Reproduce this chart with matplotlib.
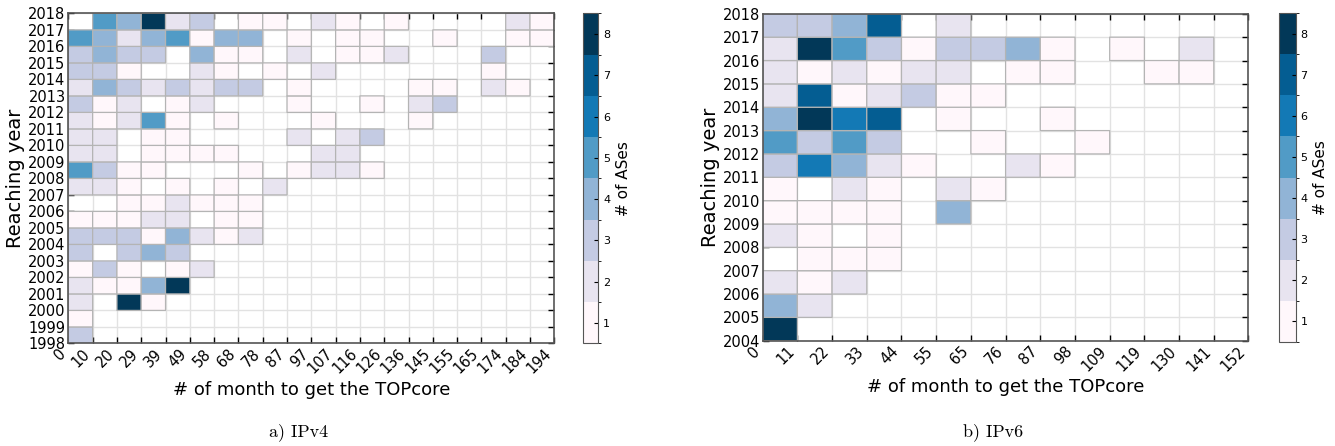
import matplotlib.pyplot as plt
from matplotlib.colors import BoundaryNorm
import numpy as np

# IPv4: rows from 2017 (top) down to 1998, 20 month bins
v4_xlabels = ['0', '10', '20', '29', '39', '49', '58', '68', '78', '87', '97',
              '107', '116', '126', '136', '145', '155', '165', '174', '184', '194']
v4_years = list(range(1998, 2019))
v4_counts = [
    [0, 5, 4, 8, 2, 3, 0, 1, 1, 0, 2, 1, 0, 1, 0, 0, 0, 0, 2, 1],  # 2017
    [5, 4, 2, 4, 5, 1, 4, 4, 0, 1, 0, 1, 1, 0, 0, 1, 0, 0, 1, 1],  # 2016
    [3, 4, 3, 3, 0, 4, 1, 1, 0, 2, 0, 1, 1, 2, 0, 0, 0, 3, 0, 0],  # 2015
    [3, 3, 1, 0, 0, 2, 1, 0, 1, 0, 2, 0, 0, 0, 0, 0, 0, 1, 0, 0],  # 2014
    [2, 4, 3, 2, 3, 2, 3, 3, 0, 1, 0, 0, 0, 0, 1, 1, 0, 2, 1, 0],  # 2013
    [3, 1, 2, 0, 1, 2, 0, 0, 0, 1, 0, 0, 1, 0, 2, 3, 0, 0, 0, 0],  # 2012
    [2, 1, 2, 5, 1, 0, 1, 0, 0, 0, 1, 0, 0, 0, 1, 0, 0, 0, 0, 0],  # 2011
    [2, 2, 0, 1, 1, 0, 0, 0, 0, 2, 0, 2, 3, 0, 0, 0, 0, 0, 0, 0],  # 2010
    [2, 2, 0, 1, 1, 1, 1, 0, 0, 0, 2, 2, 0, 0, 0, 0, 0, 0, 0, 0],  # 2009
    [5, 3, 1, 1, 0, 0, 0, 1, 0, 1, 2, 2, 1, 0, 0, 0, 0, 0, 0, 0],  # 2008
    [2, 2, 1, 0, 1, 0, 1, 0, 2, 0, 0, 0, 0, 0, 0, 0, 0, 0, 0, 0],  # 2007
    [0, 0, 1, 1, 2, 1, 1, 1, 0, 0, 0, 0, 0, 0, 0, 0, 0, 0, 0, 0],  # 2006
    [1, 1, 1, 2, 2, 0, 1, 1, 0, 0, 0, 0, 0, 0, 0, 0, 0, 0, 0, 0],  # 2005
    [3, 3, 3, 1, 4, 2, 1, 2, 0, 0, 0, 0, 0, 0, 0, 0, 0, 0, 0, 0],  # 2004
    [3, 0, 3, 4, 3, 0, 0, 0, 0, 0, 0, 0, 0, 0, 0, 0, 0, 0, 0, 0],  # 2003
    [1, 3, 1, 0, 1, 2, 0, 0, 0, 0, 0, 0, 0, 0, 0, 0, 0, 0, 0, 0],  # 2002
    [2, 1, 1, 4, 8, 0, 0, 0, 0, 0, 0, 0, 0, 0, 0, 0, 0, 0, 0, 0],  # 2001
    [2, 0, 8, 1, 0, 0, 0, 0, 0, 0, 0, 0, 0, 0, 0, 0, 0, 0, 0, 0],  # 2000
    [1, 0, 0, 0, 0, 0, 0, 0, 0, 0, 0, 0, 0, 0, 0, 0, 0, 0, 0, 0],  # 1999
    [3, 0, 0, 0, 0, 0, 0, 0, 0, 0, 0, 0, 0, 0, 0, 0, 0, 0, 0, 0],  # 1998
]

# IPv6: rows from 2017 (top) down to 2004, 14 month bins
v6_xlabels = ['0', '11', '22', '33', '44', '55', '65', '76', '87', '98',
              '109', '119', '130', '141', '152']
v6_years = list(range(2004, 2019))
v6_counts = [
    [3, 3, 4, 7, 0, 2, 0, 0, 0, 0, 0, 0, 0, 0],  # 2017
    [2, 8, 5, 3, 1, 3, 3, 4, 1, 0, 1, 0, 2, 0],  # 2016
    [2, 1, 2, 1, 2, 2, 0, 1, 1, 0, 0, 1, 1, 0],  # 2015
    [2, 7, 1, 2, 3, 1, 1, 0, 0, 0, 0, 0, 0, 0],  # 2014
    [4, 8, 6, 7, 0, 1, 0, 0, 1, 0, 0, 0, 0, 0],  # 2013
    [5, 3, 5, 3, 0, 0, 1, 0, 0, 1, 0, 0, 0, 0],  # 2012
    [3, 6, 4, 2, 1, 0, 0, 2, 1, 0, 0, 0, 0, 0],  # 2011
    [1, 0, 2, 1, 0, 2, 1, 0, 0, 0, 0, 0, 0, 0],  # 2010
    [1, 1, 1, 1, 0, 4, 0, 0, 0, 0, 0, 0, 0, 0],  # 2009
    [2, 1, 0, 1, 0, 0, 0, 0, 0, 0, 0, 0, 0, 0],  # 2008
    [0, 1, 1, 1, 0, 0, 0, 0, 0, 0, 0, 0, 0, 0],  # 2007
    [2, 1, 2, 0, 0, 0, 0, 0, 0, 0, 0, 0, 0, 0],  # 2006
    [4, 2, 0, 0, 0, 0, 0, 0, 0, 0, 0, 0, 0, 0],  # 2005
    [8, 0, 0, 0, 0, 0, 0, 0, 0, 0, 0, 0, 0, 0],  # 2004
]

cbar_ticks = [1, 2, 3, 4, 5, 6, 7, 8]

cmap = plt.get_cmap('PuBu', 8)
norm = BoundaryNorm(np.arange(0.5, 9.5, 1), cmap.N)

fig = plt.figure(figsize=(13.35, 4.46), dpi=100)


def draw_heat(ax_pos, cax_pos, counts, xlabels, years, caption, cap_x):
    ax = fig.add_axes(ax_pos)
    data = np.array(counts)[::-1]
    data = np.ma.masked_equal(data, 0)
    nrow, ncol = data.shape
    # pcolor leaves the masked (zero) cells out entirely
    mesh = ax.pcolor(np.arange(ncol + 1), np.arange(nrow + 1), data,
                     cmap=cmap, norm=norm, edgecolors='#b4b4b4', linewidth=0.9)
    ax.set_xlim(0, ncol)
    ax.set_ylim(0, nrow)
    ax.set_xticks(np.arange(ncol + 1))
    ax.set_xticklabels(xlabels, rotation=45, ha='right', fontsize=10.5)
    ax.set_yticks(np.arange(nrow + 1))
    ax.set_yticklabels([str(y) for y in years], fontsize=10.5)
    ax.tick_params(direction='in', top=True, right=True, length=4, width=1, pad=2)
    ax.grid(True, color='#e2e2e2', linewidth=1)
    ax.set_axisbelow(True)
    for s in ax.spines.values():
        s.set_color('#555555')
        s.set_linewidth(1.2)
    ax.set_xlabel('# of month to get the TOPcore', fontsize=13, labelpad=3)
    ax.set_ylabel('Reaching year', fontsize=14, labelpad=2)

    cax = fig.add_axes(cax_pos)
    cb = fig.colorbar(mesh, cax=cax, ticks=cbar_ticks)
    cb.ax.tick_params(labelsize=8, direction='in', length=3)
    cb.set_label('# of ASes', fontsize=11)
    cb.outline.set_edgecolor('#555555')

    fig.text(cap_x, 0.022, caption, ha='center', fontsize=13, family='cmr10')


draw_heat([0.0512, 0.230, 0.364, 0.740], [0.4367, 0.230, 0.0115, 0.740],
          v4_counts, v4_xlabels, v4_years, 'a) IPv4', 0.224)
draw_heat([0.5713, 0.236, 0.3639, 0.733], [0.958, 0.234, 0.0125, 0.736],
          v6_counts, v6_xlabels, v6_years, 'b) IPv6', 0.744)

plt.savefig('out.png', dpi=100)
